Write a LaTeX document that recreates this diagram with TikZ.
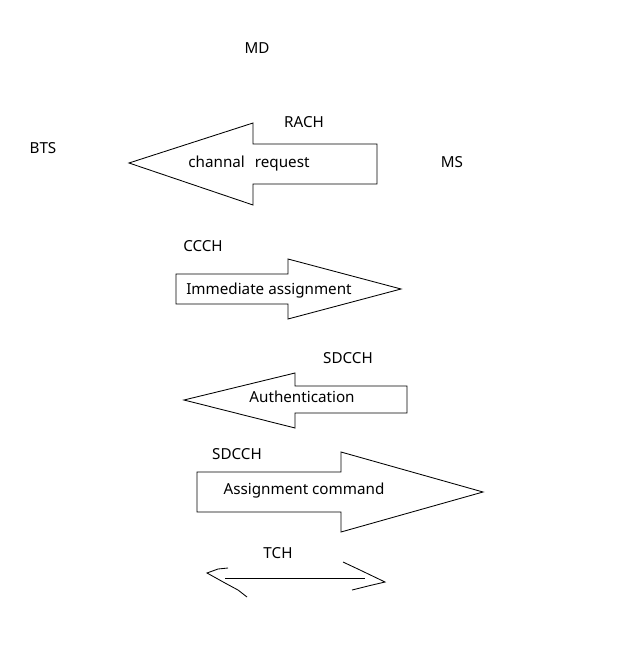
\documentclass[tikz,border=0pt]{standalone}
\usepackage{fontspec}
\setmainfont{Noto Sans}
\begin{document}
\begin{tikzpicture}[x=1pt,y=-1pt,
  lbl/.style={font=\fontsize{15.2}{17}\selectfont, text=black, inner sep=0pt},
  blockarrow/.style={draw=black, line width=0.85pt, fill=white, line join=miter},
  stroke/.style={draw=black, line width=0.85pt}]
\useasboundingbox (0,0) rectangle (642,660);
% block arrows
\draw[blockarrow] (129,163) -- (253,123) -- (253,144) -- (377,144) -- (377,184) -- (253,184) -- (253,205) -- cycle;
\draw[blockarrow] (401,289) -- (288,259) -- (288,274) -- (176,274) -- (176,304) -- (288,304) -- (288,319) -- cycle;
\draw[blockarrow] (184,400) -- (295,373) -- (295,386) -- (407,386) -- (407,413) -- (295,413) -- (295,428) -- cycle;
\draw[blockarrow] (483,492) -- (341,452) -- (341,472) -- (197,472) -- (197,512) -- (341,512) -- (341,532) -- cycle;
% labels
\node[lbl] (md) at (257,48) {MD};
\node[lbl] (bts) at (43,148) {BTS};
\node[lbl] (ms) at (452,162) {MS};
\node[lbl] (rach) at (304,122) {RACH};
\node[lbl] (req) at (249,164) {channal\hspace{0.4em} request};
\node[lbl] (ccch) at (203,246) {CCCH};
\node[lbl] (imm) at (269,291) {Immediate assignment};
\node[lbl] (sd1) at (348,358) {SDCCH};
\node[lbl] (auth) at (302,397) {Authentication};
\node[lbl] (sd2) at (237,454) {SDCCH};
\node[lbl] (cmd) at (304,491) {Assignment command};
\node[lbl] (tch) at (278,553) {TCH};
% TCH double arrow (hand drawn)
\coordinate (tl) at (225,578);
\coordinate (tr) at (365,578);
\coordinate (ltip) at (207,573);
\coordinate (rtip) at (385,582);
\draw[stroke] (tl) -- (tr);
\draw[stroke] (228,568) -- (218,569) -- (ltip) -- (225,583) -- (238,590) -- (247,597);
\draw[stroke] (343,562) -- (360,570) -- (rtip) -- (368,586) -- (352,590);
\end{tikzpicture}
\end{document}
